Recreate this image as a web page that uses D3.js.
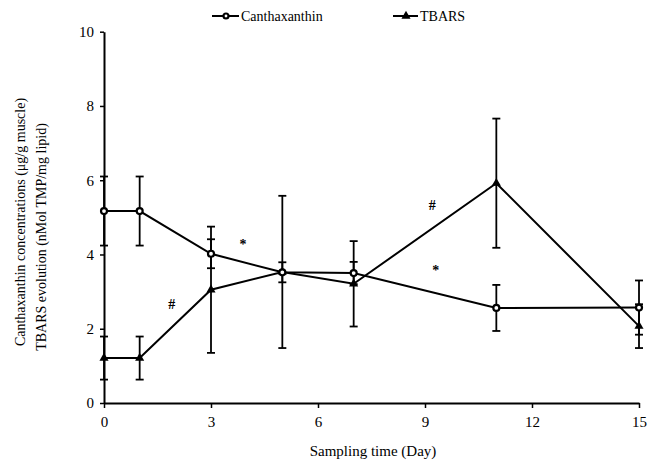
<!DOCTYPE html>
<html><head><meta charset="utf-8">
<script src="https://cdn.jsdelivr.net/npm/d3@7"></script>
<style>body{margin:0;background:#fff}svg{display:block}</style>
</head><body>
<svg id="c" width="653" height="460"></svg>
<script>
const days = [0, 1, 3, 5, 7, 11, 15];
const canthaxanthin = [5.17, 5.17, 4.02, 3.52, 3.50, 2.56, 2.57];
const canthaxanthinErr = [0.93, 0.93, 0.39, 0.27, 0.30, 0.62, 0.73];
const tbars = [1.21, 1.21, 3.05, 3.53, 3.21, 5.92, 2.07];
const tbarsErr = [0.58, 0.58, 1.70, 2.05, 1.15, 1.74, 0.59];
const xTicks = [0, 3, 6, 9, 12, 15];
const yTicks = [0, 2, 4, 6, 8, 10];
const marks = [
  {day: 3.9, v: 4.27, t: "*"},
  {day: 1.9, v: 2.67, t: "#"},
  {day: 9.2, v: 5.32, t: "#"},
  {day: 9.3, v: 3.57, t: "*"}
];

const svg = d3.select("#c");
const font = "'Liberation Serif', 'Times New Roman', serif";
const x = d3.scaleLinear().domain([0, 15]).range([104, 639]);
const y = d3.scaleLinear().domain([0, 10]).range([403, 31.7]);

// axes
const xa = svg.append("g").attr("transform", "translate(0,403)")
  .call(d3.axisBottom(x).tickValues(xTicks).tickSize(5).tickPadding(8).tickSizeOuter(0));
const ya = svg.append("g").attr("transform", "translate(104,0)")
  .call(d3.axisLeft(y).tickValues(yTicks).tickSize(4).tickPadding(6).tickSizeOuter(0));
[xa, ya].forEach(g => {
  g.attr("font-family", font);
  g.select(".domain").attr("stroke", "#000").attr("stroke-width", 2);
  g.selectAll(".tick line").attr("stroke", "#000").attr("stroke-width", 1.5);
  g.selectAll(".tick text").attr("font-family", font).attr("font-size", 15).attr("fill", "#000");
});

const line = d3.line().x((d, i) => x(days[i])).y(d => y(d));

function series(vals, errs, marker) {
  const g = svg.append("g");
  vals.forEach((v, i) => {
    const cx = x(days[i]), lo = y(v - errs[i]), hi = y(v + errs[i]);
    g.append("line").attr("x1", cx).attr("x2", cx).attr("y1", lo).attr("y2", hi)
      .attr("stroke", "#000").attr("stroke-width", 1.8);
    [lo, hi].forEach(yy => g.append("line").attr("x1", cx - 4).attr("x2", cx + 4)
      .attr("y1", yy).attr("y2", yy).attr("stroke", "#000").attr("stroke-width", 1.8));
  });
  g.append("path").attr("d", line(vals)).attr("fill", "none")
    .attr("stroke", "#000").attr("stroke-width", 2);
  vals.forEach((v, i) => marker(g, x(days[i]), y(v)));
}
const circ = (g, cx, cy) => g.append("circle").attr("cx", cx).attr("cy", cy).attr("r", 3)
  .attr("fill", "#fff").attr("stroke", "#000").attr("stroke-width", 2.2);
const tri = (g, cx, cy) => g.append("path")
  .attr("d", d3.symbol().type(d3.symbolTriangle).size(36)()).attr("transform", `translate(${cx},${cy})`)
  .attr("fill", "#000");

series(tbars, tbarsErr, tri);
series(canthaxanthin, canthaxanthinErr, circ);

// significance marks
marks.forEach(m => svg.append("text").attr("x", x(m.day)).attr("y", y(m.v) + 5)
  .attr("text-anchor", "middle").attr("font-family", font).attr("font-size", 14)
  .attr("font-weight", "bold").attr("fill", "#000").text(m.t));

// legend
const lg = svg.append("g");
lg.append("line").attr("x1", 212).attr("x2", 239).attr("y1", 16).attr("y2", 16).attr("stroke", "#000").attr("stroke-width", 2);
circ(lg, 226, 16).attr("r", 2.5);
lg.append("text").attr("x", 241).attr("y", 21).attr("font-family", font).attr("font-size", 14).attr("fill", "#000").text("Canthaxanthin");
lg.append("line").attr("x1", 393).attr("x2", 418).attr("y1", 16).attr("y2", 16).attr("stroke", "#000").attr("stroke-width", 2);
tri(lg, 406, 16);
lg.append("text").attr("x", 420).attr("y", 21).attr("font-family", font).attr("font-size", 14).attr("fill", "#000").text("TBARS");

// axis titles
svg.append("text").attr("x", 373).attr("y", 456).attr("text-anchor", "middle")
  .attr("font-family", font).attr("font-size", 15).attr("fill", "#000").text("Sampling time (Day)");
svg.append("text").attr("transform", "translate(25,222) rotate(-90)").attr("text-anchor", "middle")
  .attr("font-family", font).attr("font-size", 14).attr("fill", "#000").text("Canthaxanthin concentrations (μg/g muscle)");
svg.append("text").attr("transform", "translate(46,237) rotate(-90)").attr("text-anchor", "middle")
  .attr("font-family", font).attr("font-size", 14).attr("fill", "#000").text("TBARS evolution (nMol TMP/mg lipid)");
</script>
</body></html>
